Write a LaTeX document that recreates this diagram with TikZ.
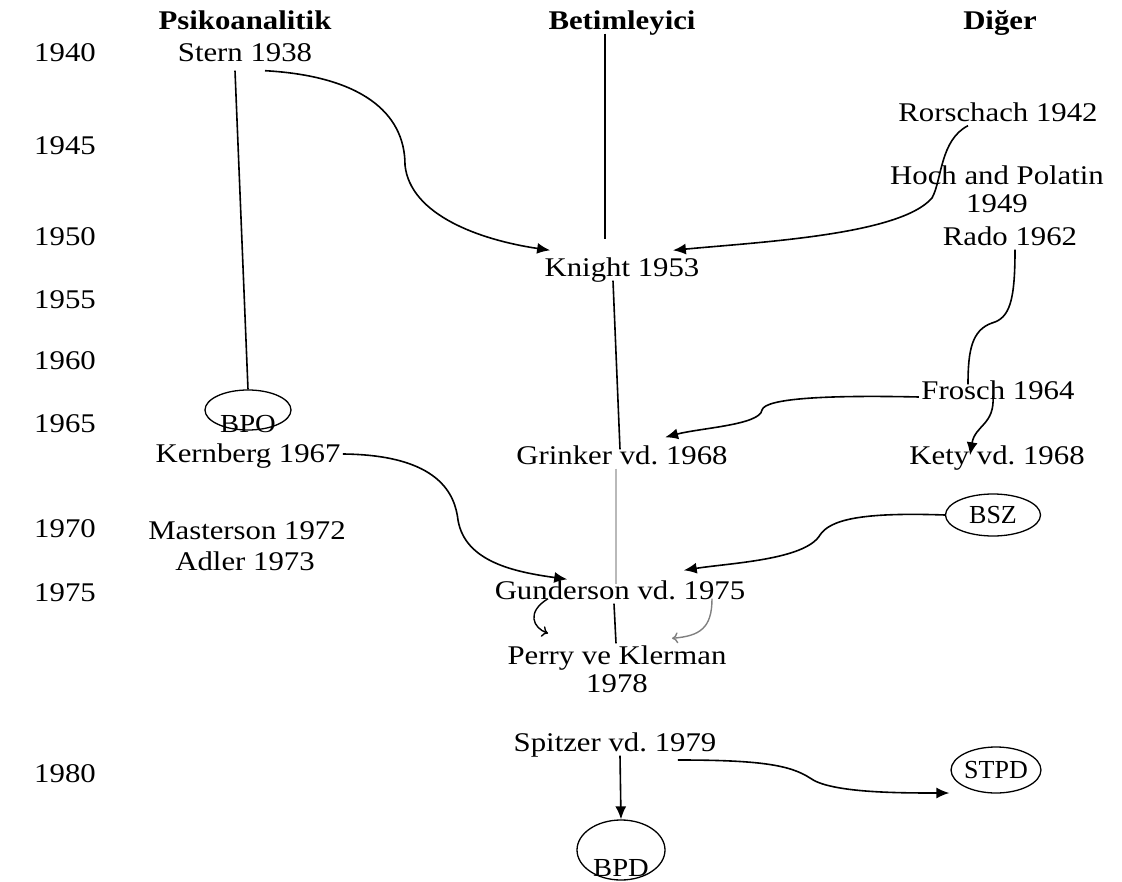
\documentclass[tikz,border=0pt]{standalone}
\usepackage{fontspec}
\setmainfont{Liberation Serif}
\usetikzlibrary{arrows.meta,shapes.geometric}

\begin{document}
\frenchspacing
\begin{tikzpicture}[x=1pt,y=-1pt,
  base node/.style={font=\fontsize{27}{28}\selectfont,xscale=1.14,align=center,inner sep=2pt},
  name node/.style={base node,text height=0.7em,text depth=0.2em},
  pair node/.style={base node},
  head node/.style={name node,font=\fontsize{27}{28}\selectfont\bfseries},
  year node/.style={name node},
  oval node/.style={draw,ellipse,line width=1.3pt,inner sep=0pt},
  oval text/.style={font=\fontsize{26}{28}\selectfont,xscale=1.1,inner sep=0pt},
  link/.style={line width=1.6pt},
  arr/.style={link,-{Latex[length=13pt,width=11pt]}},
  open arr/.style={line width=1.4pt,-{To[length=6pt,width=11pt]}}]
  \useasboundingbox (0,0) rectangle (1122,882);

  % column heads
  \node[head node] (psiko) at (245,27) {Psikoanalitik};
  \node[head node] (betim) at (622,27) {Betimleyici};
  \node[head node] (diger) at (1000,27) {Diğer};

  % years
  \node[year node] (y40) at (65,59) {1940};
  \node[year node] (y45) at (65,152) {1945};
  \node[year node] (y50) at (65,243) {1950};
  \node[year node] (y55) at (65,306) {1955};
  \node[year node] (y60) at (65,367) {1960};
  \node[year node] (y65) at (65,430) {1965};
  \node[year node] (y70) at (65,535) {1970};
  \node[year node] (y75) at (65,599) {1975};
  \node[year node] (y80) at (65,780) {1980};

  % names
  \node[name node] (stern) at (245,59) {Stern 1938};
  \node[name node] (rorsch) at (998,119) {Rorschach 1942};
  \node[pair node] (hoch) at (997,189) {Hoch and Polatin\\1949};
  \node[name node] (rado) at (1010,243) {Rado 1962};
  \node[name node] (knight) at (622,274) {Knight 1953};
  \node[name node] (frosch) at (998,397) {Frosch 1964};
  \node[oval node,minimum width=86pt,minimum height=40pt] (bpo) at (248,410) {};
  \node[oval text] (bpotxt) at (248,424) {BPO};
  \node[name node] (kernberg) at (248,460) {Kernberg 1967};
  \node[name node] (grinker) at (622,462) {Grinker vd. 1968};
  \node[name node] (kety) at (997,462) {Kety vd. 1968};
  \node[oval node,minimum width=95pt,minimum height=42pt,font=\fontsize{26}{28}\selectfont] (bsz) at (993,515) {BSZ};
  \node[name node] (masterson) at (247,537) {Masterson 1972};
  \node[name node] (adler) at (245,568) {Adler 1973};
  \node[name node] (gunderson) at (620,597) {Gunderson vd. 1975};
  \node[pair node] (perry) at (617,669) {Perry ve Klerman\\1978};
  \node[name node] (spitzer) at (615,749) {Spitzer vd. 1979};
  \node[oval node,minimum width=85pt,minimum height=46pt,font=\fontsize{26}{28}\selectfont] (stpd) at (996,770) {STPD};
  \node[oval node,minimum width=88pt,minimum height=60pt] (bpd) at (621,850) {};
  \node[oval text] (bpdtxt) at (621,868) {BPD};

  % straight lines
  \path
  ([shift={(-10,5)}]stern.south) edge[link] (bpo.north)
  ([xshift=-17pt]betim.south) edge[link] ([shift={(-17,-28)}]knight.north)
  ([xshift=-9pt]knight.south) edge[link] ([shift={(-2,-6)}]grinker.north)
  ([xshift=-6pt]grinker.south) edge[line width=1.2pt,gray!55] ([shift={(-4,-6)}]gunderson.north)
  ([xshift=-6pt]gunderson.south) edge[link] ([xshift=-1pt]perry.north)
  ([xshift=5pt]spitzer.south) edge[arr] (bpd.north);

  % curved links
  \draw[arr] ([shift={(20,5)}]stern.south) .. controls (360,76) and (405,112) .. (405,165)
    .. controls (410,215) and (480,240) .. ([shift={(8,-17)}]knight.north west);
  \draw[arr] ([xshift=-30pt]rorsch.south) .. controls (940,140) and (942,180) .. (932,198)
    .. controls (900,235) and (760,242) .. ([shift={(-29,-17)}]knight.north east);
  \draw[link] ([xshift=5pt]rado.south) .. controls (1015,300) and (1010,318) .. (992,323)
    .. controls (972,330) and (968,350) .. ([shift={(-30,-6)}]frosch.north);
  \draw[arr] (frosch.west) .. controls (830,395) and (765,398) .. (762,410)
    .. controls (760,425) and (700,428) .. ([shift={(-65,-18)}]grinker.north east);
  \draw[arr] ([shift={(-5,-8)}]frosch.south) .. controls (995,425) and (975,425) .. ([xshift=-27pt]kety.north);
  \draw[arr] ([yshift=6pt]kernberg.east) .. controls (440,455) and (455,495) .. (458,520)
    .. controls (465,562) and (515,572) .. ([shift={(75,-11)}]gunderson.north west);
  \draw[arr] (bsz.west) .. controls (860,512) and (830,520) .. (820,535)
    .. controls (805,560) and (730,563) .. ([shift={(-64,-20)}]gunderson.north east);
  \draw[open arr] ([shift={(-72,-5)}]gunderson.south) .. controls (526,612) and (533,628) .. ([shift={(43,-10)}]perry.north west);
  \draw[open arr,gray] ([shift={(92,-5)}]gunderson.south) .. controls (712,628) and (700,636) .. ([shift={(55,-5)}]perry.north);
  \draw[arr] ([shift={(-41,11)}]spitzer.east) .. controls (760,760) and (790,765) .. (810,778)
    .. controls (830,793) and (900,793) .. ([shift={(-1,23)}]stpd.west);

\end{tikzpicture}
\end{document}
